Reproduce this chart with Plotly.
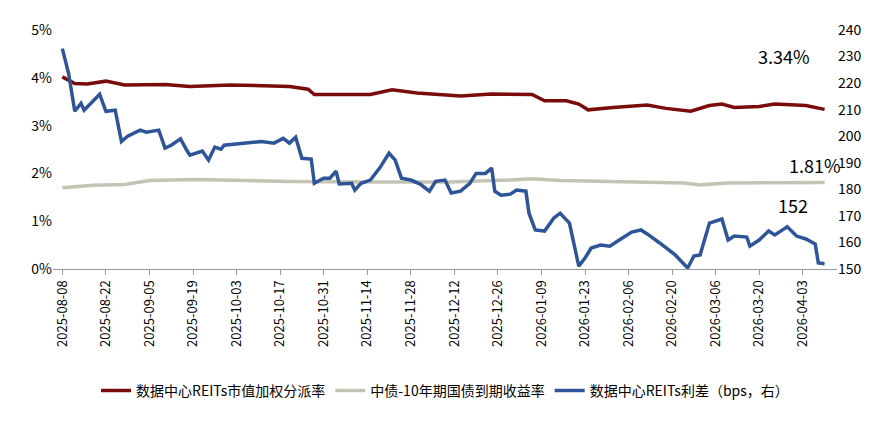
import plotly.graph_objects as go

blue_dates = ["2025-08-08","2025-08-10","2025-08-12","2025-08-14","2025-08-15","2025-08-19","2025-08-20","2025-08-22","2025-08-25","2025-08-27","2025-08-29","2025-09-02","2025-09-04","2025-09-08","2025-09-10","2025-09-12","2025-09-15","2025-09-17","2025-09-18","2025-09-22","2025-09-24","2025-09-26","2025-09-28","2025-09-29","2025-10-11","2025-10-15","2025-10-18","2025-10-20","2025-10-22","2025-10-24","2025-10-27","2025-10-28","2025-10-31","2025-11-02","2025-11-04","2025-11-05","2025-11-09","2025-11-10","2025-11-12","2025-11-15","2025-11-18","2025-11-21","2025-11-23","2025-11-25","2025-11-28","2025-12-01","2025-12-04","2025-12-06","2025-12-09","2025-12-11","2025-12-14","2025-12-17","2025-12-19","2025-12-22","2025-12-24","2025-12-25","2025-12-27","2025-12-30","2026-01-01","2026-01-04","2026-01-05","2026-01-07","2026-01-10","2026-01-13","2026-01-15","2026-01-18","2026-01-21","2026-01-23","2026-01-25","2026-01-28","2026-01-31","2026-02-03","2026-02-07","2026-02-10","2026-02-12","2026-02-16","2026-02-21","2026-02-25","2026-02-27","2026-03-01","2026-03-04","2026-03-08","2026-03-10","2026-03-12","2026-03-16","2026-03-17","2026-03-20","2026-03-23","2026-03-25","2026-03-28","2026-03-29","2026-04-01","2026-04-04","2026-04-07","2026-04-08","2026-04-10"]
blue_vals = [233,223.7,209.4,212.4,209.8,214.3,215.8,209.4,209.8,198,200,202.3,201.5,202.3,195.5,196.6,199,194.7,192.9,194.4,191,195.9,195.1,196.6,198,197.4,199.2,197.4,199.6,191.7,191.4,182.3,184.2,184.2,186.8,182,182.3,179.7,182.3,183.5,188,193.6,191,184.2,183.5,182,179.3,183,183.5,178.6,179.3,182.3,186,186,188,179.3,177.8,178.2,179.7,179.3,171,164.7,164.3,169.2,171,167.3,151.1,154.1,157.9,159,158.6,160.9,163.9,164.7,163.2,159.8,155.3,150.4,154.9,155.3,167.3,168.8,160.9,162.4,162,158.6,160.9,164.3,162.8,165.1,165.9,162.4,161.3,159.4,152.3,152]

red_dates = ["2025-08-08","2025-08-12","2025-08-16","2025-08-22","2025-08-28","2025-09-10","2025-09-18","2025-10-01","2025-10-20","2025-10-26","2025-10-28","2025-11-15","2025-11-22","2025-11-30","2025-12-14","2025-12-24","2026-01-06","2026-01-10","2026-01-17","2026-01-21","2026-01-24","2026-02-01","2026-02-12","2026-02-18","2026-02-26","2026-03-04","2026-03-08","2026-03-12","2026-03-20","2026-03-25","2026-04-04","2026-04-10"]
red_vals = [4.02,3.88,3.87,3.93,3.85,3.86,3.82,3.85,3.82,3.76,3.65,3.65,3.75,3.68,3.62,3.66,3.65,3.52,3.52,3.45,3.33,3.38,3.43,3.36,3.30,3.42,3.45,3.38,3.40,3.45,3.42,3.34]

gray_dates = ["2025-08-08","2025-08-18","2025-08-28","2025-09-05","2025-09-20","2025-10-05","2025-10-20","2025-11-15","2025-12-10","2025-12-30","2026-01-06","2026-01-15","2026-02-05","2026-02-24","2026-03-01","2026-03-10","2026-04-10"]
gray_vals = [1.70,1.75,1.77,1.85,1.87,1.85,1.83,1.82,1.82,1.86,1.89,1.85,1.83,1.80,1.76,1.80,1.81]

tick_dates = ["2025-08-08","2025-08-22","2025-09-05","2025-09-19","2025-10-03","2025-10-17","2025-10-31","2025-11-14","2025-11-28","2025-12-12","2025-12-26","2026-01-09","2026-01-23","2026-02-06","2026-02-20","2026-03-06","2026-03-20","2026-04-03"]

names = ["数据中心REITs市值加权分派率", "中债-10年期国债到期收益率", "数据中心REITs利差（bps，右）"]

fig = go.Figure()
fig.add_trace(go.Scatter(x=red_dates, y=red_vals, name=names[0], mode="lines", line=dict(color="#7B0C0C", width=3.5)))
fig.add_trace(go.Scatter(x=gray_dates, y=gray_vals, name=names[1], mode="lines", line=dict(color="#C4C4B4", width=3.5)))
fig.add_trace(go.Scatter(x=blue_dates, y=blue_vals, name=names[2], mode="lines", yaxis="y2", line=dict(color="#2E5597", width=3.5)))

fig.add_annotation(x="2026-03-28", y=4.45, text="3.34%", showarrow=False, font=dict(size=18, color="black"))
fig.add_annotation(x="2026-04-07", y=2.18, text="1.81%", showarrow=False, font=dict(size=18, color="black"))
fig.add_annotation(x="2026-03-31", y=1.33, text="152", showarrow=False, font=dict(size=18, color="black"))

fig.update_layout(
    width=889, height=429, plot_bgcolor="white", paper_bgcolor="white",
    font=dict(family="Noto Sans CJK SC, Arial", size=14, color="black"),
    margin=dict(l=45, r=60, t=22, b=168),
    xaxis=dict(range=["2025-08-05","2026-04-14"], tickvals=tick_dates, ticktext=tick_dates, tickangle=-90,
               showline=True, linecolor="#999", ticks="outside", tickcolor="#999", showgrid=False, tickfont=dict(size=13)),
    yaxis=dict(range=[0,5], dtick=1, ticksuffix="%", showgrid=False, showline=False, zeroline=False, tickfont=dict(size=14)),
    yaxis2=dict(range=[150,240], dtick=10, overlaying="y", side="right", showgrid=False, zeroline=False, tickfont=dict(size=14)),
    legend=dict(orientation="h", x=0.5, xanchor="center", y=-0.51, yanchor="middle", font=dict(size=14)),
)
fig.write_html("out.html")
